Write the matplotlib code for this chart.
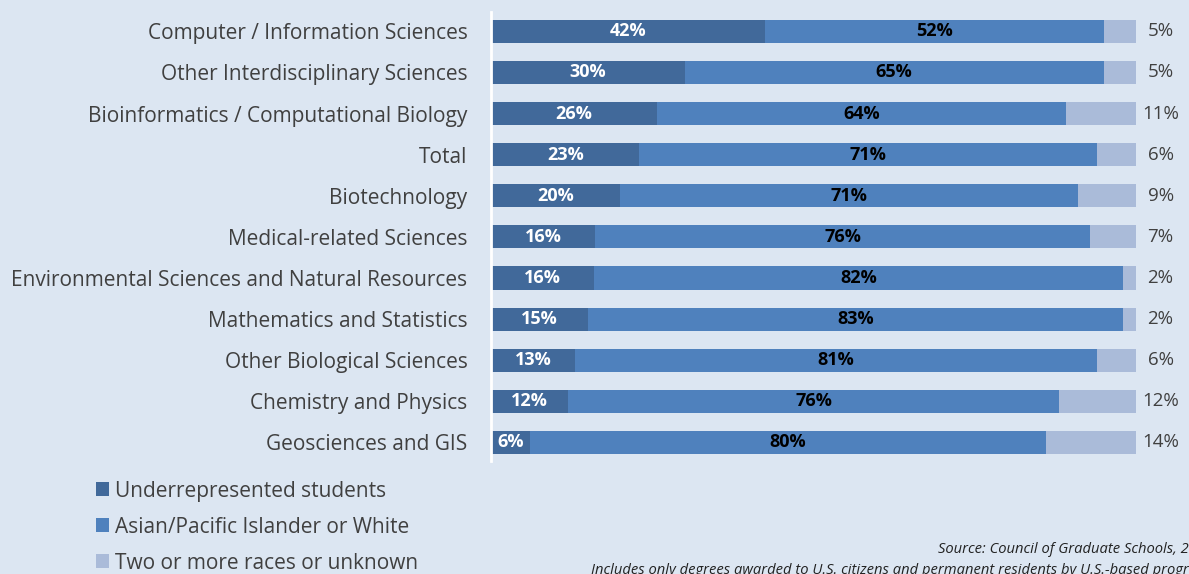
import matplotlib
matplotlib.use('Agg')
from matplotlib import pyplot as plt
from matplotlib.patches import Patch
import numpy as np

categories = ['Computer / Information Sciences',
              'Other Interdisciplinary Sciences',
              'Bioinformatics / Computational Biology',
              'Total',
              'Biotechnology',
              'Medical-related Sciences',
              'Environmental Sciences and Natural Resources',
              'Mathematics and Statistics',
              'Other Biological Sciences',
              'Chemistry and Physics',
              'Geosciences and GIS']
underrep = [42, 30, 26, 23, 20, 16, 16, 15, 13, 12, 6]
asian_white = [52, 65, 64, 71, 71, 76, 82, 83, 81, 76, 80]
other = [5, 5, 11, 6, 9, 7, 2, 2, 6, 12, 14]
series_names = ['Underrepresented students',
                'Asian/Pacific Islander or White',
                'Two or more races or unknown']

bg = '#dce6f2'
c_dark = '#41699a'
c_mid = '#4f81bd'
c_light = '#aabbd9'
txt = '#404040'

plt.rcParams['font.family'] = ['Open Sans', 'DejaVu Sans']

fig = plt.figure(figsize=(11.89, 5.74), dpi=100)
fig.patch.set_facecolor(bg)
ax = fig.add_axes([0.413, 0.197, 0.5425, 0.782])
ax.set_facecolor(bg)

y = np.arange(len(categories))
vals = np.array([underrep, asian_white, other], dtype=float)
# 100% stacked: each row scaled to its total
shares = vals / vals.sum(axis=0) * 100

h = 0.56
left = np.zeros(len(categories))
for k, col in enumerate([c_dark, c_mid, c_light]):
    ax.barh(y, shares[k], left=left, height=h, color=col, edgecolor='none')
    left += shares[k]

for i in range(len(categories)):
    ax.text(shares[0][i] / 2, y[i], '%d%%' % underrep[i], ha='center', va='center',
            color='white', fontsize=13, fontweight='bold')
    ax.text(shares[0][i] + shares[1][i] / 2, y[i], '%d%%' % asian_white[i], ha='center',
            va='center', color='black', fontsize=13, fontweight='bold')
    ax.text(103.8, y[i], '%d%%' % other[i], ha='center', va='center',
            color=txt, fontsize=13.5, clip_on=False)

ax.set_xlim(0, 100)
ax.set_ylim(10.45, -0.47)
ax.set_yticks(y)
ax.set_yticklabels(categories, fontsize=15, color=txt)
ax.tick_params(axis='y', length=0, pad=17)
ax.set_xticks([])
for s in ['top', 'right', 'bottom']:
    ax.spines[s].set_visible(False)
ax.spines['left'].set_color('white')
ax.spines['left'].set_linewidth(2)

handles = [Patch(facecolor=c, edgecolor='none') for c in [c_dark, c_mid, c_light]]
fig.legend(handles, series_names, loc='upper left', bbox_to_anchor=(0.072, 0.181),
           frameon=False, fontsize=15, labelcolor=txt, handlelength=0.62,
           handleheight=0.62, handletextpad=0.3, labelspacing=0.72, borderpad=0)

fig.text(1.02, 0.042, 'Source: Council of Graduate Schools, 2016', ha='right', va='center',
         style='italic', fontsize=10.6, color='#222222')
fig.text(0.497, 0.006, 'Includes only degrees awarded to U.S. citizens and permanent residents by U.S.-based programs.',
         ha='left', va='center', style='italic', fontsize=10.6, color='#222222')

fig.savefig('out.png', dpi=100, facecolor=bg)
